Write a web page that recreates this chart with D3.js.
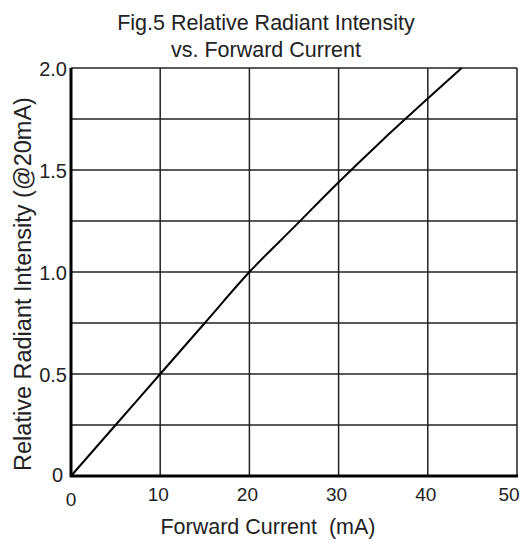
<!DOCTYPE html>
<html>
<head>
<meta charset="utf-8">
<script src="https://cdn.jsdelivr.net/npm/d3@7"></script>
<style>
  body { margin: 0; background: #fff; }
  svg { font-family: "Liberation Sans", Arial, sans-serif; }
</style>
</head>
<body>
<div id="chart"></div>
<script>
// forward current (mA) vs relative radiant intensity
let current = [0, 5, 10, 15, 20, 25, 30, 35, 40, 43.8];
let intensity = [0, 0.25, 0.5, 0.75, 1.0, 1.22, 1.44, 1.65, 1.85, 2.0];
let xTicks = [0, 10, 20, 30, 40, 50];
let yTicks = [0, 0.5, 1.0, 1.5, 2.0];
let yGrid = [0.25, 0.5, 0.75, 1.0, 1.25, 1.5, 1.75, 2.0];

let width = 526, height = 541;
let plotLeft = 71, plotRight = 517, plotTop = 68, plotBottom = 476;

let svg = d3.select("#chart").append("svg")
    .attr("width", width)
    .attr("height", height);

let x = d3.scaleLinear().domain([0, 50]).range([plotLeft, plotRight]);
let y = d3.scaleLinear().domain([0, 2]).range([plotBottom, plotTop]);

// grid
svg.selectAll(".vgrid")
    .data(xTicks.slice(1))
    .enter().append("line")
    .attr("x1", d => x(d)).attr("x2", d => x(d))
    .attr("y1", plotTop).attr("y2", plotBottom)
    .attr("stroke", "#222").attr("stroke-width", 1.5);

svg.selectAll(".hgrid")
    .data(yGrid)
    .enter().append("line")
    .attr("x1", plotLeft).attr("x2", plotRight)
    .attr("y1", d => y(d)).attr("y2", d => y(d))
    .attr("stroke", "#222").attr("stroke-width", 1.5);

// axes (thicker frame on left and bottom)
svg.append("line")
    .attr("x1", plotLeft).attr("x2", plotLeft).attr("y1", plotTop).attr("y2", plotBottom + 1)
    .attr("stroke", "#000").attr("stroke-width", 3);
svg.append("line")
    .attr("x1", plotLeft - 1).attr("x2", plotRight + 1).attr("y1", plotBottom).attr("y2", plotBottom)
    .attr("stroke", "#000").attr("stroke-width", 3);

// tick labels (the last one is pulled in so it fits the page)
svg.selectAll(".xlabel")
    .data(xTicks)
    .enter().append("text")
    .attr("x", d => d === 0 ? x(d) : Math.min(x(d) - 2, 509))
    .attr("y", d => d === 0 ? 506 : 501)
    .attr("text-anchor", "middle")
    .attr("font-size", 19)
    .attr("fill", "#222")
    .text(d => d);

svg.selectAll(".ylabel")
    .data(yTicks)
    .enter().append("text")
    .attr("x", d => d === 0 ? 63 : 67)
    .attr("y", d => d === 0 ? 482 : y(d) + 8)
    .attr("text-anchor", "end")
    .attr("font-size", 20)
    .attr("fill", "#222")
    .text(d => d === 0 ? "0" : d3.format(".1f")(d));

// curve
let line = d3.line()
    .x((d, i) => x(current[i]))
    .y(d => y(d))
    .curve(d3.curveCatmullRom);

svg.append("path")
    .datum(intensity)
    .attr("d", line)
    .attr("fill", "none")
    .attr("stroke", "#000")
    .attr("stroke-width", 2);

// titles
svg.append("text")
    .attr("x", 266).attr("y", 30)
    .attr("text-anchor", "middle")
    .attr("font-size", 21.5)
    .attr("fill", "#222")
    .text("Fig.5 Relative Radiant Intensity");
svg.append("text")
    .attr("x", 266).attr("y", 57)
    .attr("text-anchor", "middle")
    .attr("font-size", 21.5)
    .attr("fill", "#222")
    .text("vs. Forward Current");

svg.append("text")
    .attr("x", 268).attr("y", 534)
    .attr("text-anchor", "middle")
    .attr("font-size", 21.5)
    .attr("fill", "#222")
    .style("white-space", "pre")
    .text("Forward Current  (mA)");

svg.append("text")
    .attr("transform", "translate(31," + 284 + ") rotate(-90)")
    .attr("text-anchor", "middle")
    .attr("font-size", 23.5)
    .attr("fill", "#222")
    .text("Relative Radiant Intensity (@20mA)");
</script>
</body>
</html>
